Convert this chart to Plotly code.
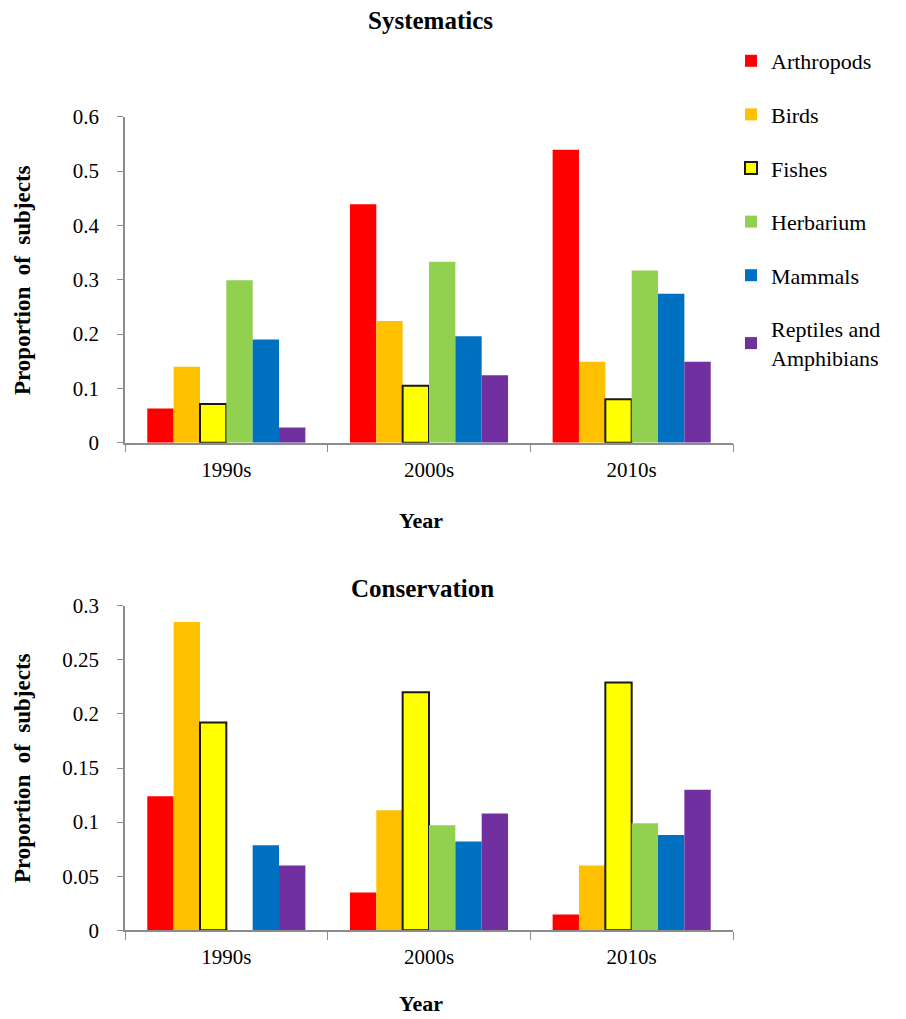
import plotly.graph_objects as go
from plotly.subplots import make_subplots

decades = ["1990s", "2000s", "2010s"]
groups = ["Arthropods", "Birds", "Fishes", "Herbarium", "Mammals", "Reptiles and Amphibians"]
legend_labels = ["Arthropods", "Birds", "Fishes", "Herbarium", "Mammals", "Reptiles and<br>Amphibians"]
colors = ["#FF0000", "#FFC000", "#FFFF00", "#92D050", "#0070C0", "#7030A0"]

systematics = {
    "Arthropods": [0.063, 0.439, 0.539],
    "Birds": [0.140, 0.224, 0.149],
    "Fishes": [0.071, 0.105, 0.080],
    "Herbarium": [0.299, 0.333, 0.317],
    "Mammals": [0.190, 0.196, 0.274],
    "Reptiles and Amphibians": [0.028, 0.124, 0.149],
}
conservation = {
    "Arthropods": [0.124, 0.035, 0.0145],
    "Birds": [0.285, 0.111, 0.060],
    "Fishes": [0.192, 0.220, 0.229],
    "Herbarium": [0.0, 0.097, 0.099],
    "Mammals": [0.0785, 0.082, 0.088],
    "Reptiles and Amphibians": [0.060, 0.108, 0.130],
}

sys_yticks = [0, 0.1, 0.2, 0.3, 0.4, 0.5, 0.6]
sys_ytext = ["0", "0.1", "0.2", "0.3", "0.4", "0.5", "0.6"]
con_yticks = [0, 0.05, 0.1, 0.15, 0.2, 0.25, 0.3]
con_ytext = ["0", "0.05", "0.1", "0.15", "0.2", "0.25", "0.3"]

FONT = "Liberation Serif, Times New Roman, serif"
W, H = 906, 1019

fig = make_subplots(rows=2, cols=1)

for i, g in enumerate(groups):
    is_fish = g == "Fishes"
    line = dict(color="#1a1a1a", width=2) if is_fish else dict(width=0)
    fig.add_trace(go.Bar(x=decades, y=systematics[g], name=legend_labels[i],
                         marker=dict(color=colors[i], line=line),
                         legendgroup=g, showlegend=True), row=1, col=1)
    fig.add_trace(go.Bar(x=decades, y=conservation[g], name=legend_labels[i],
                         marker=dict(color=colors[i], line=line),
                         legendgroup=g, showlegend=False), row=2, col=1)

x0, x1 = 125 / W, 733 / W
top_dom = [1 - 442.7 / H, 1 - 116.7 / H]
bot_dom = [1 - 930.3 / H, 1 - 605.7 / H]

axis_common = dict(showline=True, linecolor="#8c8c8c", linewidth=1.5,
                   ticks="outside", tickcolor="#8c8c8c", showgrid=False,
                   zeroline=False, automargin=False,
                   tickfont=dict(family=FONT, size=21, color="black"))

fig.update_xaxes(tickson="boundaries", ticklen=8, ticklabelstandoff=7, **axis_common)
fig.update_yaxes(ticklen=6, ticklabelstandoff=14, **axis_common)
fig.update_layout(
    xaxis=dict(domain=[x0, x1]),
    xaxis2=dict(domain=[x0, x1]),
    yaxis=dict(domain=top_dom, range=[0, 0.6], tickvals=sys_yticks, ticktext=sys_ytext),
    yaxis2=dict(domain=bot_dom, range=[0, 0.3], tickvals=con_yticks, ticktext=con_ytext),
)

fig.update_layout(
    width=W, height=H, autosize=False,
    margin=dict(l=0, r=0, t=0, b=0, autoexpand=False),
    paper_bgcolor="white", plot_bgcolor="white",
    barmode="group", bargap=0.22, bargroupgap=0,
    font=dict(family=FONT, color="black"),
    legend=dict(x=731 / W, y=1 - 40 / H, xanchor="left", yanchor="top",
                font=dict(family=FONT, size=22, color="black"),
                tracegroupgap=22, itemwidth=30, bgcolor="rgba(0,0,0,0)"),
    showlegend=True,
)

annots = [
    dict(text="<b>Systematics</b>", x=430 / W, y=1 - 20 / H, size=25),
    dict(text="<b>Conservation</b>", x=422 / W, y=1 - 588 / H, size=25),
    dict(text="<b>Year</b>", x=421 / W, y=1 - 520 / H, size=22),
    dict(text="<b>Year</b>", x=421 / W, y=1 - 1003 / H, size=22),
]
for a in annots:
    fig.add_annotation(text=a["text"], x=a["x"], y=a["y"], xref="paper", yref="paper",
                       xanchor="center", yanchor="middle", showarrow=False,
                       font=dict(family=FONT, size=a["size"], color="black"))
for yc in [280, 768]:
    fig.add_annotation(text="<b>Proportion  of  subjects</b>", x=22 / W, y=1 - yc / H,
                       xref="paper", yref="paper", xanchor="center", yanchor="middle",
                       textangle=-90, showarrow=False,
                       font=dict(family=FONT, size=23, color="black"))

fig.write_html("out.html", config={"displayModeBar": False},
               post_script="document.body.style.margin='0';")
